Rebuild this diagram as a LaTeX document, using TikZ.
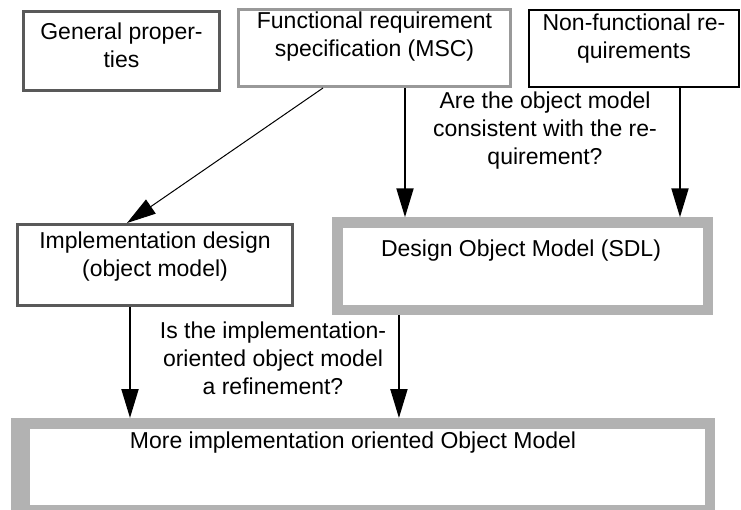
\documentclass[tikz,border=0pt]{standalone}
\usepackage{fontspec}
\setmainfont{Liberation Sans}
\usetikzlibrary{arrows.meta}

\begin{document}
\begin{tikzpicture}[
  x=0.5pt, y=-0.5pt,
  every node/.style={font=\fontsize{11.5}{14}\selectfont},
  box/.style={rectangle, draw=black!65, line width=1.5pt, inner sep=0pt},
  greybox/.style={box, draw=black!40},
  blackbox/.style={box, draw=black, line width=1pt},
  heavybox/.style={rectangle, draw=black!30, line width=5.25pt, inner sep=0pt},
  txt/.style={align=center, anchor=base, inner sep=0pt},
  arrow/.style={line width=1pt, -{Triangle[length=14.5pt, width=8.5pt]}},
  thinarrow/.style={arrow, line width=0.5pt}
]
  \useasboundingbox (0,0) rectangle (741,510);

  % Cajas
  \node[box, minimum width=98pt, minimum height=39.5pt] (gen) at (121.5,51) {};
  \node[greybox, minimum width=136pt, minimum height=38.5pt] (fr) at (374.5,48) {};
  \node[blackbox, minimum width=105pt, minimum height=38.5pt] (nf) at (634,48.5) {};
  \node[box, minimum width=137.5pt, minimum height=40.5pt] (impl) at (155,265) {};
  \node[heavybox, minimum width=185.25pt, minimum height=43.75pt] (dom) at (522.75,266.25) {};
  \fill[black!30] (11,418) rectangle (24,515); % borde izquierdo más ancho
  \node[heavybox, minimum width=342.6pt, minimum height=43.5pt] (miom) at (367.4,466.75) {};

  % Textos (la base es la de la última línea)
  \node[txt] (gen-t) at (121.5,67) {General proper-\\ties};
  \node[txt] (fr-t) at (374.5,56) {Functional requirement\\specification (MSC)};
  \node[txt] (nf-t) at (634,58) {Non-functional re-\\quirements};
  \node[txt] (impl-t) at (155,276) {Implementation design\\(object model)};
  \node[txt] (dom-t) at (521,256) {Design Object Model (SDL)};
  \node[txt] (miom-t) at (353,448) {More implementation oriented Object Model};
  \node[txt] (q1) at (545,164) {Are the object model\\consistent with the re-\\quirement?};
  \node[txt] (q2) at (273,394) {Is the implementation-\\oriented object model\\a refinement?};

  % Flechas
  \draw[thinarrow] ([xshift=-25.75pt]fr.south) -- ([xshift=-14pt]impl.north);
  \draw[arrow] ([xshift=15.25pt]fr.south) -- ([xshift=15.25pt]fr.south |- dom.north);
  \draw[arrow] ([xshift=23pt]nf.south) -- ([xshift=23pt]nf.south |- dom.north);
  \draw[arrow] ([xshift=-12.5pt]impl.south) -- ([xshift=-12.5pt]impl.south |- miom.north);
  \draw[arrow] ([xshift=-61.9pt]dom.south) -- ([xshift=-61.9pt]dom.south |- miom.north);
\end{tikzpicture}
\end{document}
